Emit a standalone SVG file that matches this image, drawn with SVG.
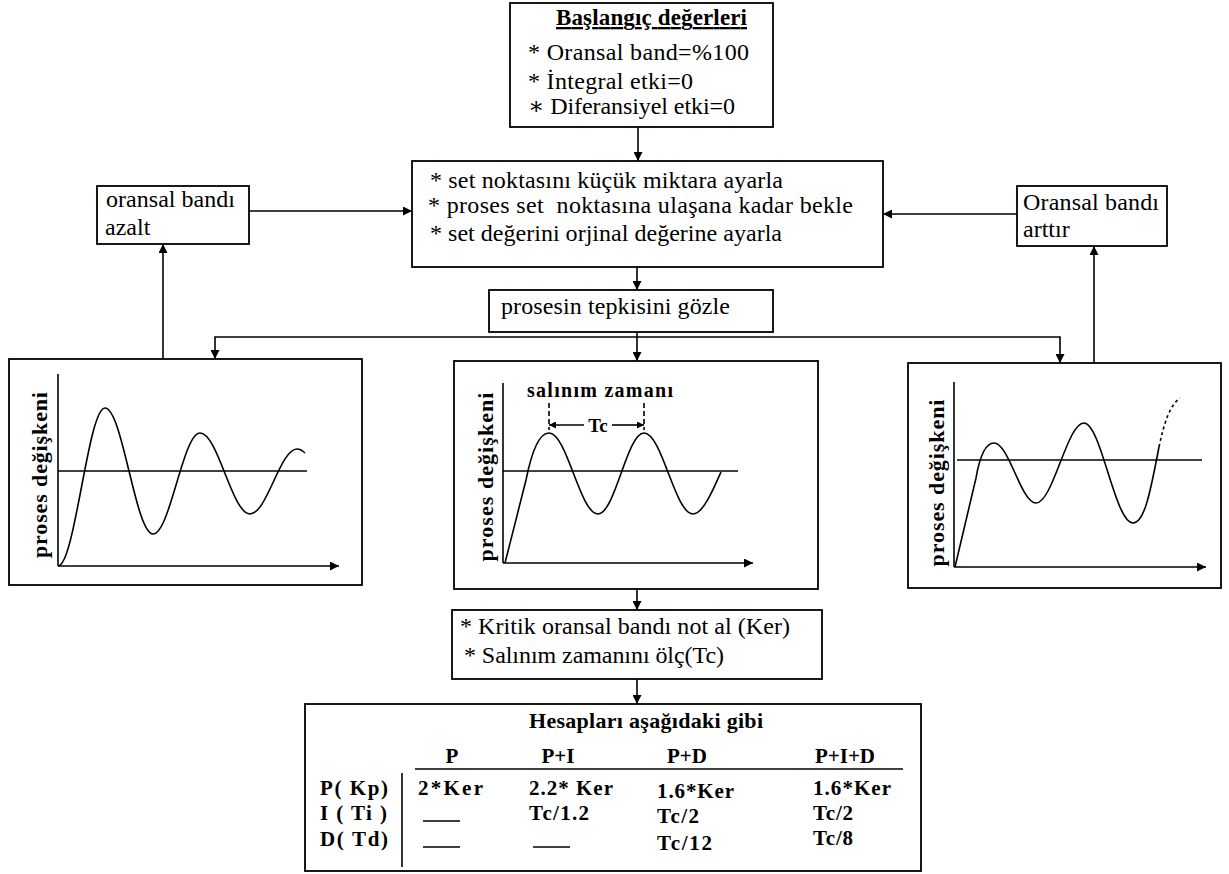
<svg xmlns="http://www.w3.org/2000/svg" width="1229" height="874" viewBox="0 0 1229 874">
<defs>
<style>
.box{fill:#fff;stroke:#000;stroke-width:1.8}
.ln{fill:none;stroke:#000;stroke-width:1.6}
.crv{fill:none;stroke:#000;stroke-width:1.6;stroke-linejoin:round}
.t{font-family:'Liberation Serif','DejaVu Serif','Times New Roman',serif;font-size:24px;fill:#000}
.b{font-family:'Liberation Serif','DejaVu Serif','Times New Roman',serif;font-weight:bold;fill:#000}
.tb{font-family:'Liberation Serif','DejaVu Serif','Times New Roman',serif;font-weight:bold;font-size:21px;fill:#000}
</style>
<marker id="ah" viewBox="0 0 10 10" refX="10" refY="5" markerWidth="9" markerHeight="9" markerUnits="userSpaceOnUse" orient="auto-start-reverse"><path d="M0,0 L10,5 L0,10 z" fill="#000"/></marker>
<marker id="ahs" viewBox="0 0 10 10" refX="10" refY="5" markerWidth="7" markerHeight="7" markerUnits="userSpaceOnUse" orient="auto-start-reverse"><path d="M0,0 L10,5 L0,10 z" fill="#000"/></marker>
</defs>
<rect width="1229" height="874" fill="#fff"/>

<g id="start-values">
<rect class="box" x="510" y="3" width="263" height="124"/>
<text class="b" font-family="Liberation Serif, DejaVu Serif, serif" x="651.5" y="25" font-size="23" text-anchor="middle" text-decoration="underline" textLength="191">Başlangıç değerleri</text>
<text class="t" font-family="Liberation Serif, DejaVu Serif, serif" x="528" y="60" textLength="221">* Oransal band=%100</text>
<text class="t" font-family="Liberation Serif, DejaVu Serif, serif" x="528" y="89" textLength="165">* İntegral etki=0</text>
<text class="t" font-family="Liberation Serif, DejaVu Serif, serif" x="528" y="114" textLength="207">∗ Diferansiyel etki=0</text>
</g>

<g id="set-steps">
<rect class="box" x="412" y="161" width="471" height="106"/>
<text class="t" font-family="Liberation Serif, DejaVu Serif, serif" x="430" y="188" textLength="353">* set noktasını küçük miktara ayarla</text>
<text class="t" font-family="Liberation Serif, DejaVu Serif, serif" x="428" y="213" xml:space="preserve" textLength="425">* proses set  noktasına ulaşana kadar bekle</text>
<text class="t" font-family="Liberation Serif, DejaVu Serif, serif" x="430" y="241" textLength="352">* set değerini orjinal değerine ayarla</text>
</g>

<g id="observe">
<rect class="box" x="489" y="290" width="284" height="42"/>
<text class="t" font-family="Liberation Serif, DejaVu Serif, serif" x="501" y="314" textLength="229">prosesin tepkisini gözle</text>
</g>

<g id="decrease-band">
<rect class="box" x="97" y="186" width="152" height="58"/>
<text class="t" font-family="Liberation Serif, DejaVu Serif, serif" x="106" y="207" textLength="129">oransal bandı</text>
<text class="t" font-family="Liberation Serif, DejaVu Serif, serif" x="105" y="235">azalt</text>
</g>

<g id="increase-band">
<rect class="box" x="1017" y="186" width="150" height="60"/>
<text class="t" font-family="Liberation Serif, DejaVu Serif, serif" x="1023" y="210" textLength="136">Oransal bandı</text>
<text class="t" font-family="Liberation Serif, DejaVu Serif, serif" x="1023" y="237">arttır</text>
</g>

<g id="graph-left">
<rect class="box" x="9" y="359" width="353" height="226"/>
<path class="ln" d="M58,374 V566"/>
<path class="ln" d="M58,566 H339" marker-end="url(#ah)"/>
<path class="ln" d="M58,471 H307"/>
<path class="crv" d="M58,566 C75,566 88,408 105,408 C122.5,408 135.5,534 153,534 C170,534 183,433 200,433 C218,433 232,514 250,514 C267,514 280,449 297,449 C300,449 303,451 305,453"/>
<text class="b" font-family="Liberation Serif, DejaVu Serif, serif" font-size="22" text-anchor="middle" textLength="166" transform="translate(47,475) rotate(-90)">proses değişkeni</text>
</g>

<g id="graph-center">
<rect class="box" x="454" y="361" width="364" height="228"/>
<path class="ln" d="M503,383 V563"/>
<path class="ln" d="M503,563 H753" marker-end="url(#ah)"/>
<path class="ln" d="M503,471 H738"/>
<path class="crv" d="M505,563 L526,480 C531,455 538,433 549,433 C567,433 580,514 598,514 C615,514 627,433 644,433 C662,433 675,514 693,514 C703,514 713,490 721,472"/>
<text class="b" font-family="Liberation Serif, DejaVu Serif, serif" font-size="22" text-anchor="middle" textLength="169" transform="translate(493,477) rotate(-90)">proses değişkeni</text>
<text class="b" font-family="Liberation Serif, DejaVu Serif, serif" font-size="20" x="600" y="397" text-anchor="middle" textLength="146">salınım zamanı</text>
<path class="ln" d="M549,403 V430 M644,403 V430" stroke-dasharray="5,3" stroke-width="1.4"/>
<path class="ln" d="M584,425 H549" marker-end="url(#ahs)"/>
<path class="ln" d="M612,425 H644" marker-end="url(#ahs)"/>
<text class="b" font-family="Liberation Serif, DejaVu Serif, serif" font-size="19" x="598" y="432" text-anchor="middle">Tc</text>
</g>

<g id="graph-right">
<rect class="box" x="908" y="363" width="313" height="225"/>
<path class="ln" d="M954,382 V567"/>
<path class="ln" d="M954,567 H1206" marker-end="url(#ah)"/>
<path class="ln" d="M957,460 H1202"/>
<path class="crv" d="M955,567 L976,478 C980,455 986,443 994,443 C1009,443 1021,503 1036,503 C1053,503 1067,423 1084,423 C1101,423 1115,523 1133,523 C1145,523 1151,488 1159,447"/>
<path class="crv" d="M1159,447 C1164,423 1170,405 1180,398" stroke-dasharray="3,3"/>
<text class="b" font-family="Liberation Serif, DejaVu Serif, serif" font-size="22" text-anchor="middle" textLength="167" transform="translate(944,483) rotate(-90)">proses değişkeni</text>
</g>

<g id="critical">
<rect class="box" x="452" y="610" width="370" height="69"/>
<text class="t" font-family="Liberation Serif, DejaVu Serif, serif" x="460" y="634" textLength="330">* Kritik oransal bandı not al (Ker)</text>
<text class="t" font-family="Liberation Serif, DejaVu Serif, serif" x="464" y="663" textLength="260">* Salınım zamanını ölç(Tc)</text>
</g>

<g id="table">
<rect class="box" x="305" y="704" width="616" height="167"/>
<text class="b" font-family="Liberation Serif, DejaVu Serif, serif" font-size="22" x="646" y="728" text-anchor="middle" textLength="234">Hesapları aşağıdaki gibi</text>
<text class="tb" font-family="Liberation Serif, DejaVu Serif, serif" x="452" y="763" text-anchor="middle">P</text>
<text class="tb" font-family="Liberation Serif, DejaVu Serif, serif" x="558" y="763" text-anchor="middle">P+I</text>
<text class="tb" font-family="Liberation Serif, DejaVu Serif, serif" x="687" y="763" text-anchor="middle">P+D</text>
<text class="tb" font-family="Liberation Serif, DejaVu Serif, serif" x="845" y="763" text-anchor="middle">P+I+D</text>
<path class="ln" d="M415,769 H903" stroke-width="2"/>
<path class="ln" d="M402,773 V867" stroke-width="2"/>
<text class="tb" font-family="Liberation Serif, DejaVu Serif, serif" x="320" y="795" textLength="68">P( Kp)</text>
<text class="tb" font-family="Liberation Serif, DejaVu Serif, serif" x="320" y="820" textLength="67" xml:space="preserve">I ( Ti )</text>
<text class="tb" font-family="Liberation Serif, DejaVu Serif, serif" x="320" y="846" textLength="68">D( Td)</text>
<text class="tb" font-family="Liberation Serif, DejaVu Serif, serif" x="418" y="795" textLength="65">2*Ker</text>
<path class="ln" d="M423,821 H460 M423,847 H460"/>
<text class="tb" font-family="Liberation Serif, DejaVu Serif, serif" x="529" y="795" textLength="84">2.2* Ker</text>
<text class="tb" font-family="Liberation Serif, DejaVu Serif, serif" x="529" y="820" textLength="60">Tc/1.2</text>
<path class="ln" d="M533,847 H570"/>
<text class="tb" font-family="Liberation Serif, DejaVu Serif, serif" x="657" y="798" textLength="77">1.6*Ker</text>
<text class="tb" font-family="Liberation Serif, DejaVu Serif, serif" x="657" y="823" textLength="42">Tc/2</text>
<text class="tb" font-family="Liberation Serif, DejaVu Serif, serif" x="657" y="850" textLength="55">Tc/12</text>
<text class="tb" font-family="Liberation Serif, DejaVu Serif, serif" x="813" y="795" textLength="78">1.6*Ker</text>
<text class="tb" font-family="Liberation Serif, DejaVu Serif, serif" x="813" y="820" textLength="40">Tc/2</text>
<text class="tb" font-family="Liberation Serif, DejaVu Serif, serif" x="813" y="845" textLength="40">Tc/8</text>
</g>

<g id="connectors">
<path class="ln" d="M638,127 V161" marker-end="url(#ah)"/>
<path class="ln" d="M637,267 V290" marker-end="url(#ah)"/>
<path class="ln" d="M637,332 V361" marker-end="url(#ah)"/>
<path class="ln" d="M215,359 V337 H1060 V363" marker-start="url(#ah)" marker-end="url(#ah)"/>
<path class="ln" d="M163,359 V244" marker-end="url(#ah)"/>
<path class="ln" d="M249,211 H412" marker-end="url(#ah)"/>
<path class="ln" d="M1094,363 V246" marker-end="url(#ah)"/>
<path class="ln" d="M1017,214 H883" marker-end="url(#ah)"/>
<path class="ln" d="M637,589 V610" marker-end="url(#ah)"/>
<path class="ln" d="M637,679 V704" marker-end="url(#ah)"/>
</g>
</svg>
